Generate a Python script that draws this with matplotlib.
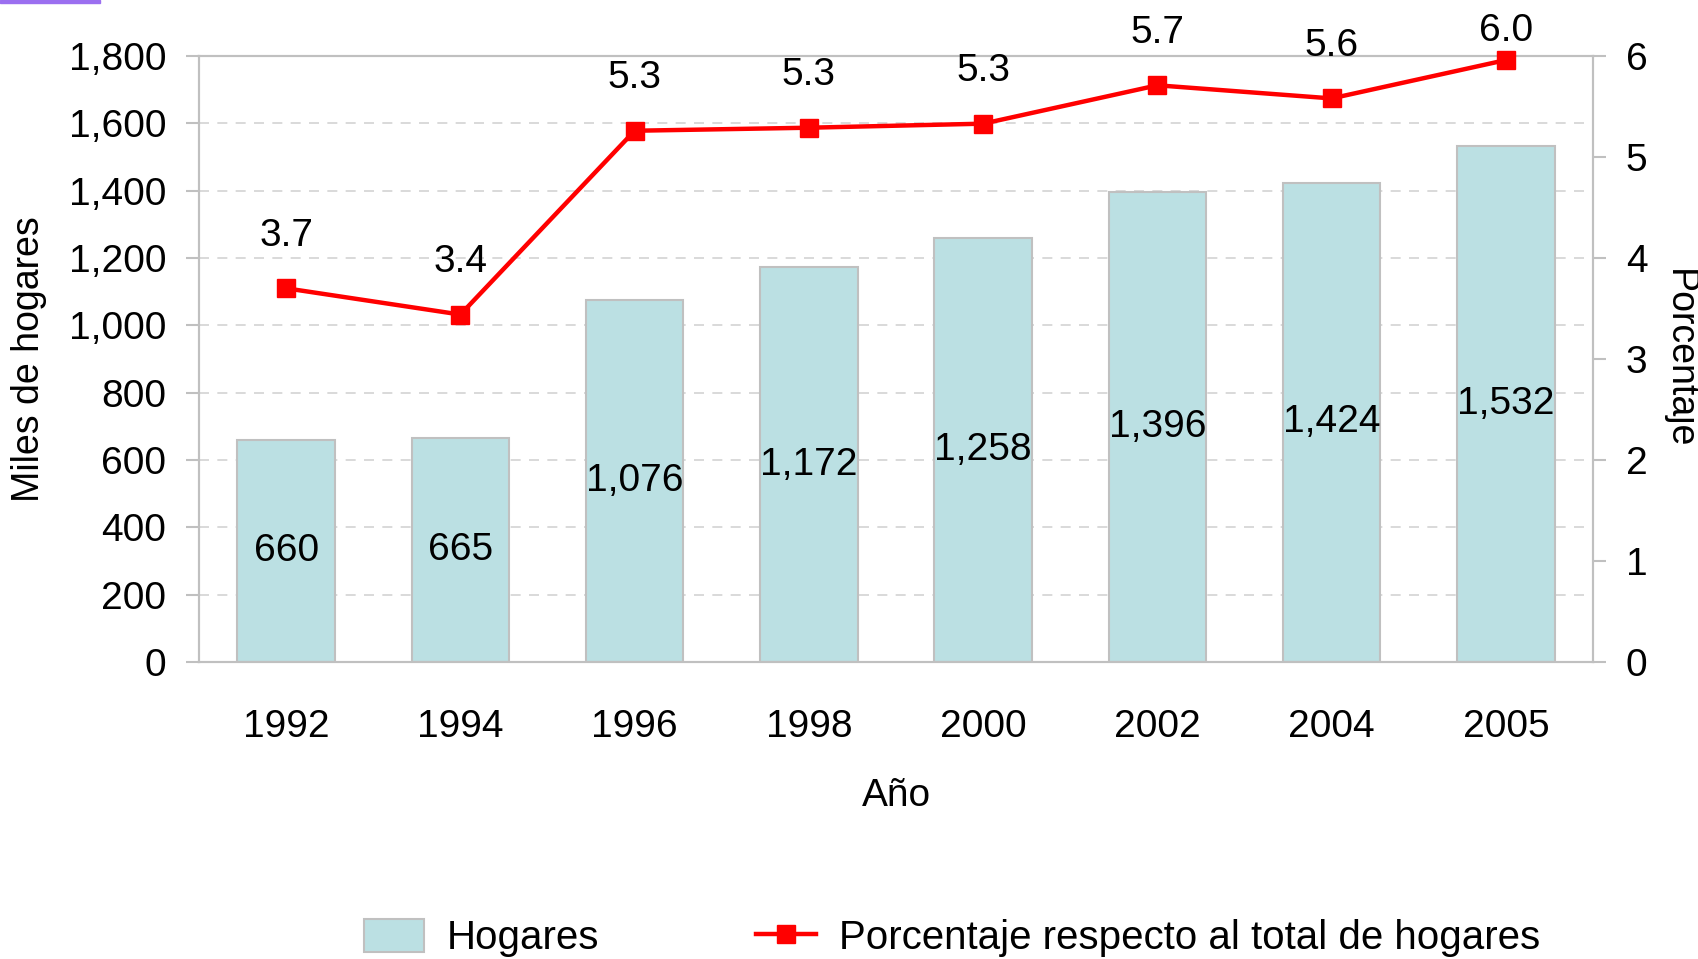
import matplotlib
matplotlib.use("Agg")
import matplotlib.pyplot as plt
from matplotlib.patches import Rectangle
from matplotlib.ticker import FuncFormatter

plt.rcParams['font.family'] = ['Liberation Sans', 'DejaVu Sans']

# datos
anios = ['1992', '1994', '1996', '1998', '2000', '2002', '2004', '2005']
hogares = [660, 665, 1076, 1172, 1258, 1396, 1424, 1532]
porcentaje = [3.70, 3.44, 5.26, 5.29, 5.33, 5.71, 5.58, 5.96]

gris = '#c0c0c0'
fs = 28

fig = plt.figure(figsize=(16.98, 9.59), dpi=100)
ax = fig.add_axes([0.1172, 0.3097, 0.8210, 0.6319])
x = list(range(len(anios)))

barras = ax.bar(x, hogares, width=0.56, color='#bbe0e3', edgecolor=gris,
                linewidth=1.5, label='Hogares', zorder=2)
ax.bar_label(barras, labels=[f'{v:,}' for v in hogares], label_type='center',
             fontsize=fs, color='black')

ax.set_xlim(-0.5, len(anios) - 0.5)
ax.set_ylim(0, 1800)
ax.set_yticks(range(0, 1801, 200))
ax.yaxis.set_major_formatter(FuncFormatter(lambda v, p: f'{int(v):,}'))
ax.set_xticks(x)
ax.set_xticklabels(anios)
ax.tick_params(axis='x', length=0, pad=34, labelsize=fs)
ax.tick_params(axis='y', length=9.5, width=1.5, color=gris, pad=14, labelsize=fs)
ax.grid(axis='y', linestyle=(0, (6, 5)), color='#d3d3d3', linewidth=1.2, zorder=0)
for s in ax.spines.values():
    s.set_color(gris)
    s.set_linewidth(1.5)

ax.set_ylabel('Miles de hogares', fontsize=27, va='center')
ax.yaxis.set_label_coords(-0.122, 0.5)
ax.set_xlabel('Año', fontsize=28)
ax.xaxis.set_label_coords(0.5, -0.221)
ax.xaxis.label.set_verticalalignment('center')

ax2 = ax.twinx()
ax2.set_ylim(0, 6)
ax2.set_yticks(range(0, 7))
linea, = ax2.plot(x, porcentaje, color='#ff0000', linewidth=3.2, marker='s',
                  markersize=13, label='Porcentaje respecto al total de hogares',
                  clip_on=False, zorder=3)
for xi, p in zip(x, porcentaje):
    # la etiqueta más alta baja un poco para no salirse de la figura
    dy = 38 if p < 5.9 else 21
    ax2.annotate(f'{p:.1f}', (xi, p), xytext=(0, dy), textcoords='offset points',
                 ha='center', va='center', fontsize=fs)
ax2.tick_params(axis='y', length=9.5, width=1.5, color=gris, pad=14, labelsize=fs)
for s in ax2.spines.values():
    s.set_color(gris)
    s.set_linewidth(1.5)
ax2.set_ylabel('Porcentaje', fontsize=27, rotation=270, va='center')
ax2.yaxis.set_label_coords(1.0617, 0.5)

fig.legend([barras, linea], ['Hogares', 'Porcentaje respecto al total de hogares'],
           loc='center', bbox_to_anchor=(0.5608, 0.022), ncol=2, frameon=False,
           fontsize=29, handlelength=1.5, handletextpad=0.57, columnspacing=3.88,
           handleheight=0.9)

# franja morada arriba a la izquierda
fig.patches.append(Rectangle((0, 1 - 3 / 959), 100 / 1698, 3 / 959,
                             transform=fig.transFigure, color='#9b6ff0', zorder=5))

fig.savefig('out.png', dpi=100)
